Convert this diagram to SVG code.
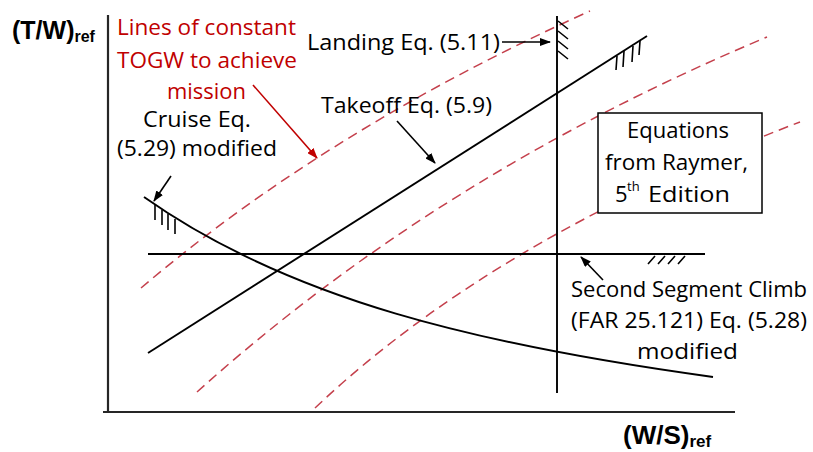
<svg xmlns="http://www.w3.org/2000/svg" width="813" height="452" viewBox="0 0 813 452">
  <defs>
    <marker id="arrow-black" markerUnits="userSpaceOnUse" markerWidth="11" markerHeight="8" refX="10" refY="4" orient="auto">
      <path d="M0,0 L11,4 L0,8 z" fill="#000"/>
    </marker>
    <marker id="arrow-red" markerUnits="userSpaceOnUse" markerWidth="11" markerHeight="8" refX="10" refY="4" orient="auto">
      <path d="M0,0 L11,4 L0,8 z" fill="#c00000"/>
    </marker>
    <style>
      .axis { stroke: #262626; stroke-width: 2.2; fill: none; }
      .constraint { stroke: #000; stroke-width: 1.9; fill: none; }
      .hatch { stroke: #000; stroke-width: 1.6; fill: none; }
      .togw { stroke: #c4404c; stroke-width: 1.5; fill: none; stroke-dasharray: 10 6; }
      .lead { stroke: #000; stroke-width: 1.6; fill: none; marker-end: url(#arrow-black); }
      .lead-red { stroke: #c00000; stroke-width: 1.6; fill: none; marker-end: url(#arrow-red); }
      .lbl { font-family: "Open Sans", "Noto Sans", "Liberation Sans", sans-serif; font-size: 22px; fill: #000; }
      .lbl-red { font-family: "Open Sans", "Noto Sans", "Liberation Sans", sans-serif; font-size: 22px; fill: #c00000; }
      .axlbl { font-family: "Liberation Sans", Arial, sans-serif; font-weight: bold; fill: #000; }
      .box { fill: #fff; stroke: #000; stroke-width: 1.5; }
    </style>
  </defs>

  <!-- lines of constant TOGW -->
  <g id="togw-lines">
    <path class="togw" d="M141,288 Q328,129 590,11"/>
    <path class="togw" d="M197,392 Q438,175 767,37"/>
    <path class="togw" d="M315,408 Q493,239 800,122"/>
  </g>

  <!-- axes -->
  <g id="axes">
    <line class="axis" x1="108" y1="15" x2="108" y2="412"/>
    <line class="axis" x1="103" y1="412" x2="735" y2="412"/>
  </g>

  <!-- constraint curves -->
  <g id="landing">
    <line class="constraint" x1="557" y1="16" x2="557" y2="393"/>
    <path class="hatch" d="M558,21 L568,29 M558,31 L568,39 M558,41 L568,49 M558,51 L568,59"/>
  </g>
  <g id="takeoff">
    <line class="constraint" x1="148" y1="353" x2="647" y2="36"/>
    <path class="hatch" d="M617,56 L616,70 M624,51 L623,67 M633,46 L632,62 M640,41 L639,55"/>
  </g>
  <g id="cruise">
    <path class="constraint" d="M144,197 C290,300 480,345 713,377"/>
    <path class="hatch" d="M155,205 L155,220 M162,210 L162,225 M168,214 L168,230 M175,219 L175,234"/>
  </g>
  <g id="climb">
    <line class="constraint" x1="148" y1="254" x2="705" y2="254"/>
    <path class="hatch" d="M655,256 L648,264 M665,256 L658,264 M675,256 L668,264 M685,256 L678,264"/>
  </g>

  <!-- leader arrows -->
  <g id="connectors">
    <line class="lead" x1="502" y1="42" x2="550" y2="42"/>
    <line class="lead" x1="397" y1="121" x2="435" y2="163"/>
    <line class="lead" x1="171" y1="176" x2="154" y2="201"/>
    <line class="lead" x1="603" y1="280" x2="581" y2="257"/>
    <line class="lead-red" x1="253" y1="85" x2="317" y2="158"/>
  </g>

  <!-- labels -->
  <g id="label-togw">
    <text class="lbl-red" x="117" y="35" textLength="179" lengthAdjust="spacingAndGlyphs">Lines of constant</text>
    <text class="lbl-red" x="117" y="68" textLength="180" lengthAdjust="spacingAndGlyphs">TOGW to achieve</text>
    <text class="lbl-red" x="167" y="99" textLength="79" lengthAdjust="spacingAndGlyphs">mission</text>
  </g>
  <g id="label-landing">
    <text class="lbl" x="307" y="50" textLength="193" lengthAdjust="spacingAndGlyphs">Landing  Eq. (5.11)</text>
  </g>
  <g id="label-takeoff">
    <text class="lbl" x="321" y="113" textLength="171" lengthAdjust="spacingAndGlyphs">Takeoff Eq. (5.9)</text>
  </g>
  <g id="label-cruise">
    <text class="lbl" x="143" y="127" textLength="108" lengthAdjust="spacingAndGlyphs">Cruise  Eq.</text>
    <text class="lbl" x="117" y="156" textLength="160" lengthAdjust="spacingAndGlyphs">(5.29) modified</text>
  </g>
  <g id="label-climb">
    <text class="lbl" x="571" y="297" textLength="236" lengthAdjust="spacingAndGlyphs">Second Segment Climb</text>
    <text class="lbl" x="571" y="328" textLength="236" lengthAdjust="spacingAndGlyphs">(FAR 25.121) Eq. (5.28)</text>
    <text class="lbl" x="637" y="359" textLength="101" lengthAdjust="spacingAndGlyphs">modified</text>
  </g>
  <g id="source-box">
    <rect class="box" x="598" y="113" width="164" height="100"/>
    <text class="lbl" x="627" y="138" textLength="102" lengthAdjust="spacingAndGlyphs">Equations</text>
    <text class="lbl" x="605" y="170" textLength="143" lengthAdjust="spacingAndGlyphs">from Raymer,</text>
    <text class="lbl" x="615" y="202">5<tspan x="627" dy="-11" style="font-size:13px">th</tspan><tspan x="648" dy="11" textLength="82" lengthAdjust="spacingAndGlyphs">Edition</tspan></text>
  </g>
  <g id="axis-labels">
    <text class="axlbl" x="12" y="39" style="font-size:25px">(T/W)<tspan style="font-size:16px" dy="3">ref</tspan></text>
    <text class="axlbl" x="623" y="444" style="font-size:26px">(W/S)<tspan style="font-size:17px" dy="3">ref</tspan></text>
  </g>
</svg>
